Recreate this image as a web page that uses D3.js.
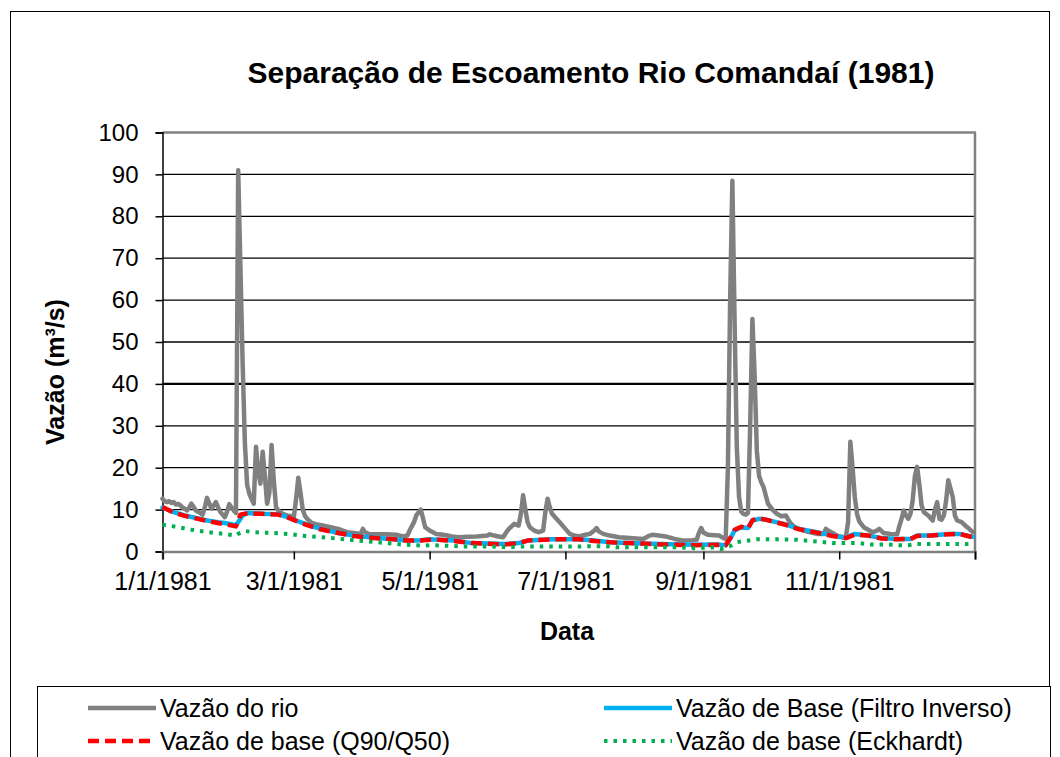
<!DOCTYPE html>
<html><head><meta charset="utf-8">
<script src="https://cdn.jsdelivr.net/npm/d3@7"></script>
<style>body{margin:0;background:#fff}svg{display:block}text{font-family:"Liberation Sans",Arial,sans-serif;fill:#000}</style>
</head><body>
<svg id="chart" width="1060" height="757"></svg>
<script>
// ---- data (day of year 1981, 0 = 1 Jan) ----
const riverDays = [0,1,2,3,4,5,6,7,8,9,10,11,12,13,14,15,16,17,18,19,20,21,22,23,24,25,26,27,28,29,30,31,32,33,34,35,36,37,38,39,40,41,42,43,44,45,46,47,48,49,50,51,52,53,54,56,58,59,60,61,62,63,64,65,67,69,72,74,77,79,81,83,86,89,90,91,93,97,101,105,108,110,111,113,114,116,117,118,120,123,126,128,130,133,137,141,146,147,149,151,153,155,156,158,160,161,162,163,164,165,167,169,171,172,173,174,175,177,179,181,183,185,187,190,192,194,195,196,198,201,205,210,216,218,220,223,226,230,234,238,240,241,242,243,245,248,250,252,253,254,255,256,257,258,259,260,261,262,263,264,265,266,267,268,269,270,272,274,276,278,280,282,284,286,288,291,294,297,298,299,301,303,306,307,308,309,310,311,312,313,315,317,319,321,322,324,327,330,331,332,333,334,335,336,337,338,339,340,341,342,344,346,347,348,349,350,351,352,353,354,355,356,357,359,361,362,364];
const riverFlow = [12.6,12.0,11.8,12.0,11.6,11.8,11.2,11.4,11.0,10.5,10.2,9.8,10.5,11.4,10.6,9.8,9.5,9.2,8.8,10.5,12.8,11.5,10.2,11.0,11.8,10.5,9.4,8.8,8.2,9.5,11.3,10.5,9.8,9.2,91,68,45,26,16,13.8,12.5,11.4,25,19,16.2,23.8,18,11.4,14,25.4,17,10.6,9.8,9.4,9.0,8.6,8.4,8.2,12.5,17.6,14,10,8.5,7.8,6.8,6.5,6.2,6.0,5.6,5.4,5.0,4.6,4.4,4.2,5.4,4.6,4.1,4.1,4.1,4.0,3.6,3.8,5.0,7.0,8.6,10,8.0,5.8,5.0,4.2,4.0,3.8,3.6,3.4,3.5,3.6,3.8,4.1,3.8,3.6,3.4,5.0,5.6,6.6,6.2,9.0,13.4,10,7.0,5.8,5.0,4.6,5.0,9.5,12.6,10.5,9.0,7.8,6.6,5.4,4.2,3.8,3.6,4.0,4.2,5.0,5.6,4.8,4.2,3.8,3.4,3.2,3.0,3.6,4.0,3.8,3.6,3.0,2.6,2.7,2.8,4.5,5.6,4.5,4.0,3.9,3.8,3.2,3.0,20,60,88.5,55,25,13,9.5,9.0,8.8,9.2,30,55.5,42,24,18,16.5,15.4,11.4,10,9.0,8.4,8.6,6.8,5.8,5.4,5.0,4.6,4.2,4.2,5.4,5.0,4.4,3.8,3.4,3.6,7.0,26.2,20,13,9.0,7.2,5.8,5.2,4.6,5.0,5.4,4.4,4.2,4.1,6.0,7.8,9.8,8.6,7.8,9.0,12.2,18,20.2,16,11,9.4,8.6,7.4,10,11.8,7.8,7.6,8.6,12,17,15,13,8.5,7.4,7.0,6.0,5.6,4.6];

const inverseDays = [0,5,10,15,20,25,28,32,33,34,35,36,38,45,52,56,60,65,71,79,86,95,104,110,113,116,120,124,131,139,154,160,164,175,184,187,194,201,209,224,239,249,253,255,257,260,263,265,268,271,279,286,294,301,307,309,311,317,323,330,336,339,345,353,358,364];
const inverseFlow = [10.5,9.4,8.6,8.0,7.4,7.0,6.8,6.4,6.3,7.0,7.8,8.6,9.2,9.0,8.9,8.2,7.4,6.4,5.4,4.4,3.8,3.3,2.9,2.6,2.6,2.7,2.9,2.8,2.6,2.0,1.8,2.0,2.6,2.9,2.9,2.9,2.6,2.2,2.0,1.8,1.6,1.7,1.5,3.0,5.0,5.8,5.6,7.4,7.8,7.6,6.6,5.4,4.6,3.8,3.2,3.8,4.2,3.8,3.2,3.0,3.0,3.8,3.8,4.2,4.2,3.5];

const q90Days = [0,5,10,15,20,25,30,33,34,35,37,45,52,56,60,65,71,79,86,95,104,110,116,120,124,131,139,154,160,164,175,187,194,201,209,224,239,249,253,255,257,260,263,265,267,271,279,286,294,301,307,309,311,317,323,330,336,339,345,353,358,364];
const q90Flow = [10.6,9.3,8.5,7.9,7.3,6.8,6.3,6.0,7.5,8.8,9.0,9.0,8.8,8.2,7.3,6.3,5.3,4.4,3.7,3.2,2.9,2.6,2.6,2.8,2.8,2.5,2.0,1.7,2.0,2.6,2.9,2.9,2.5,2.2,2.0,1.7,1.5,1.6,1.5,3.2,5.2,5.9,5.5,7.4,8.0,7.6,6.5,5.3,4.5,3.7,3.2,3.6,4.0,3.8,3.1,2.9,3.0,3.7,3.8,4.1,4.2,3.4];

const eckDays = [0,5,13,21,29,33,34,37,41,50,58,62,67,76,84,92,101,109,117,121,127,135,147,156,160,174,186,199,204,216,231,239,247,251,255,258,260,267,276,285,294,301,310,313,318,326,331,335,339,348,357,364];
const eckFlow = [6.4,6.0,5.2,4.6,4.1,3.8,4.2,4.9,4.6,4.4,4.1,3.8,3.6,3.2,2.8,2.4,2.0,1.6,1.4,1.5,1.4,1.2,1.2,1.0,1.2,1.2,1.2,1.3,1.0,1.0,1.0,0.8,1.0,0.6,1.3,2.2,2.4,2.9,2.9,2.8,2.4,2.0,2.0,2.0,1.7,1.7,1.5,1.5,1.8,1.8,1.8,1.8];

const xTickDays = [0,59,120,181,243,304,365];
const xTickLabels = ["1/1/1981","3/1/1981","5/1/1981","7/1/1981","9/1/1981","11/1/1981",""];
const yTicks = [0,10,20,30,40,50,60,70,80,90,100];

const seriesNames = ["Vazão do rio","Vazão de Base (Filtro Inverso)","Vazão de base (Q90/Q50)","Vazão de base (Eckhardt)"];

// ---- drawing ----
const svg = d3.select("#chart");
const start = new Date(1981,0,1);
const toDate = d => d3.timeDay.offset(start, d);

const L = 162.5, R = 975, T = 132.5, B = 551.5;
const x = d3.scaleTime().domain([toDate(0), toDate(365)]).range([L, R]);
const y = d3.scaleLinear().domain([0,100]).range([B, T]);

// outer frame
svg.append("rect").attr("x",10.5).attr("y",11.5).attr("width",1039).attr("height",800)
  .attr("fill","none").attr("stroke","#000").attr("stroke-width",1);

// title
svg.append("text").attr("x",591).attr("y",83).attr("text-anchor","middle")
  .attr("font-size",30).attr("font-weight","bold")
  .text("Separação de Escoamento Rio Comandaí (1981)");

// gridlines
svg.append("g").selectAll("line").data(yTicks.filter(v => v>0 && v<100)).join("line")
  .attr("x1",L).attr("x2",R).attr("y1",d=>y(d)).attr("y2",d=>y(d))
  .attr("stroke","#000").attr("stroke-width",d=>d===40?2.2:1.3);

// plot border (gray top & right)
svg.append("line").attr("x1",L).attr("x2",R+1).attr("y1",T).attr("y2",T).attr("stroke","#808080").attr("stroke-width",2.5);
svg.append("line").attr("x1",R).attr("x2",R).attr("y1",T).attr("y2",B).attr("stroke","#808080").attr("stroke-width",2.5);

// y axis
const yAxis = d3.axisLeft(y).tickValues(yTicks).tickSize(7).tickPadding(17).tickFormat(d3.format("d"));
const gy = svg.append("g").attr("transform",`translate(${L},0)`).call(yAxis);
gy.select(".domain").attr("stroke","#000").attr("stroke-width",1.5);
gy.selectAll(".tick line").attr("stroke","#000").attr("stroke-width",1.5);
gy.selectAll(".tick text").attr("font-size",24).attr("font-family","Liberation Sans, Arial, sans-serif");

// x axis
const xAxis = d3.axisBottom(x).tickValues(xTickDays.map(toDate)).tickSize(8).tickPadding(13)
  .tickFormat((d,i)=>xTickLabels[i]);
const gx = svg.append("g").attr("transform",`translate(0,${B})`).call(xAxis);
gx.select(".domain").attr("stroke","#808080").attr("stroke-width",2.5);
gx.selectAll(".tick line").attr("stroke","#000").attr("stroke-width",1.5);
gx.selectAll(".tick text").attr("font-size",25).attr("font-family","Liberation Sans, Arial, sans-serif");

// axis titles
svg.append("text").attr("transform","translate(64,372) rotate(-90)").attr("text-anchor","middle")
  .attr("font-size",25).attr("font-weight","bold").text("Vazão (m³/s)");
svg.append("text").attr("x",567).attr("y",640).attr("text-anchor","middle")
  .attr("font-size",25).attr("font-weight","bold").text("Data");

// series
const line = d3.line().x(d=>x(toDate(d[0]))).y(d=>y(d[1])).curve(d3.curveLinear);
const zip = (a,b) => a.map((d,i)=>[d,b[i]]);
const styles = [
  {stroke:"#808080", w:4.5, dash:null, cap:"round"},
  {stroke:"#00B0F0", w:4.5, dash:null, cap:"round"},
  {stroke:"#FF0000", w:4.5, dash:"11,6", cap:"butt"},
  {stroke:"#00B050", w:4, dash:"3.5,6", cap:"butt"}
];
const seriesData = [zip(riverDays,riverFlow), zip(inverseDays,inverseFlow), zip(q90Days,q90Flow), zip(eckDays,eckFlow)];
seriesData.forEach((sd,i)=>{
  svg.append("path").datum(sd).attr("d",line).attr("fill","none")
    .attr("stroke",styles[i].stroke).attr("stroke-width",styles[i].w)
    .attr("stroke-linejoin","round").attr("stroke-linecap",styles[i].cap)
    .attr("stroke-dasharray",styles[i].dash);
});

// legend
svg.append("rect").attr("x",37.5).attr("y",686.5).attr("width",1013).attr("height",100)
  .attr("fill","#fff").attr("stroke","#000").attr("stroke-width",1);
const legPos = [[88,708],[604,708],[88,741],[604,741]];
seriesNames.forEach((n,i)=>{
  const [lx,ly] = legPos[i];
  svg.append("line").attr("x1",lx).attr("x2",lx+68).attr("y1",ly).attr("y2",ly)
    .attr("stroke",styles[i].stroke).attr("stroke-width",styles[i].w)
    .attr("stroke-dasharray",styles[i].dash);
  svg.append("text").attr("x",lx+72).attr("y",ly+9).attr("font-size",25).text(n);
});
</script>
</body></html>
